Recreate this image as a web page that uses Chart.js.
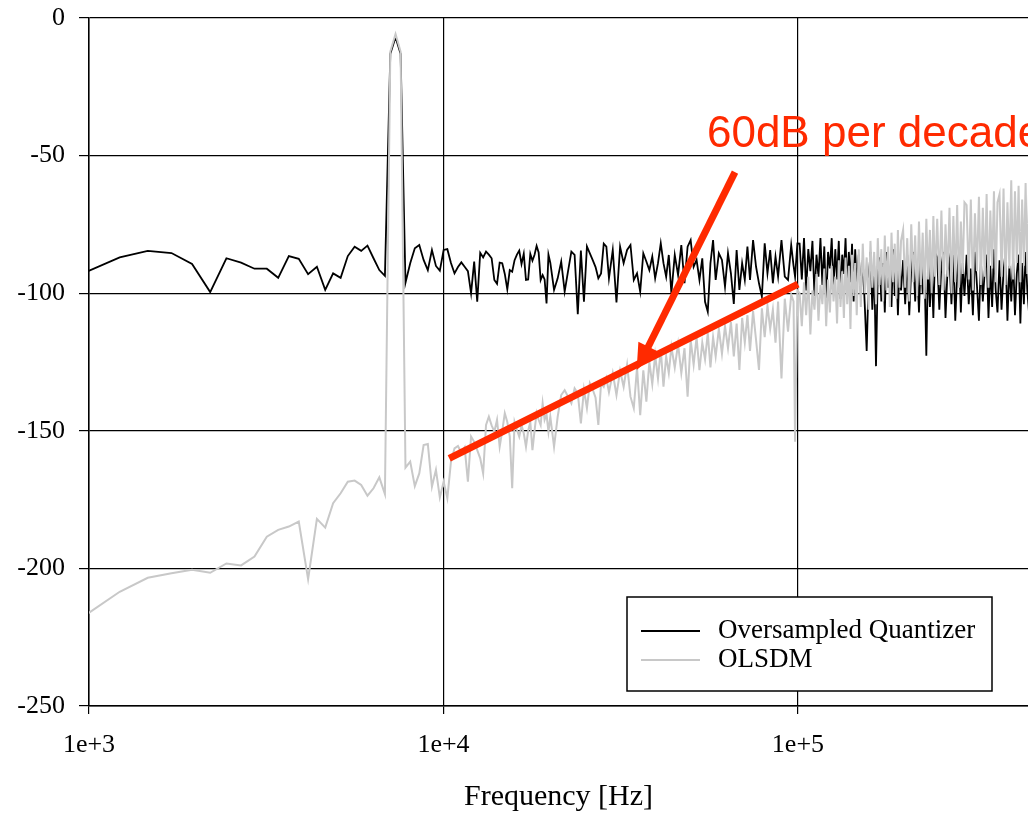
<!DOCTYPE html>
<html>
<head>
<meta charset="utf-8">
<script src="https://cdn.jsdelivr.net/npm/chart.js@4.4.1/dist/chart.umd.min.js"></script>
<style>
  html, body { margin: 0; padding: 0; background: #fff; }
  #spectrumChart { display: block; }
</style>
</head>
<body>
<canvas id="spectrumChart" width="1028" height="815"></canvas>
<script>
const binHz = 244.140625;
const bins = [
  4, 5, 6, 7, 8, 9, 10, 11, 12, 13,
  14, 15, 16, 17, 18, 19, 20, 21, 22, 23,
  24, 25, 26, 27, 28, 29, 30, 31, 32, 33,
  34, 35, 36, 37, 38, 39, 40, 41, 42, 43,
  44, 45, 46, 47, 48, 49, 50, 51, 52, 53,
  54, 55, 56, 57, 58, 59, 60, 61, 62, 63,
  64, 65, 66, 67, 68, 69, 70, 71, 72, 73,
  74, 75, 76, 77, 78, 79, 80, 81,
  82, 84, 86, 88, 90, 92, 94, 96, 98, 100,
  102, 104, 106, 108, 110, 112, 114, 116, 118, 120,
  123, 126, 129, 132, 135, 138, 141, 144, 147, 150,
  153, 156, 159, 162, 165, 168, 171, 174, 177, 180,
  184, 188, 192, 196, 200, 204, 208, 212, 216, 220, 224, 228, 232, 236, 240,
  245, 250, 255, 260, 265, 270, 275, 280, 285, 290, 295, 300,
  306, 312, 318, 324, 330, 336, 342, 348, 354, 360,
  368, 376, 384, 392, 398, 402, 408,
  414, 420, 426, 432, 438, 444, 450, 456, 462, 468,
  474, 480, 486, 492, 498, 504, 510, 516, 522, 528,
  534, 540, 546, 552, 558, 564, 570, 576, 582, 588,
  594, 600, 608, 616, 624, 632, 640, 648, 656, 664,
  672, 680, 688, 696, 704, 712, 720, 728, 736, 744,
  752, 760, 768, 776, 784, 792, 800,
  811, 822, 833, 844, 855, 866, 877, 888, 899,
  910, 921, 932, 943, 954, 965, 976, 987, 998,
  1012, 1026, 1040, 1054, 1068, 1082, 1096, 1110,
  1124, 1138, 1152, 1166, 1180, 1194, 1208,
  1225, 1242, 1259, 1276, 1293, 1310, 1327, 1344, 1361,
  1378, 1395, 1412, 1429, 1446, 1463, 1480, 1497,
  1517, 1537, 1557, 1577, 1597, 1617, 1637, 1657, 1677,
  1697, 1717, 1737, 1757, 1777, 1797, 1817, 1837
];

const quantizerDb = [
  -92.4, -87.0, -84.6, -85.4, -89.4, -99.6, -87.3, -88.9, -91.1, -91.1,
  -94.4, -86.5, -87.5, -93.1, -90.4, -98.8, -92.8, -94.4, -86.5, -83.1,
  -84.6, -82.7, -87.3, -91.6, -93.7, -13, -7, -13, -96.2, -89.1,
  -83.7, -82.5, -87.9, -91.6, -84.3, -90.1, -91.8, -84.3, -84, -89,
  -92.8, -90.5, -88.8, -90.4, -92, -100, -88.5, -103.1, -85.3, -87,
  -84.9, -86, -87.3, -95.2, -96.6, -88.9, -89.1, -93, -98.6, -91.6,
  -92.2, -88, -86, -84.5, -89.4, -85.7, -95.2, -95, -85.7, -88.2,
  -86, -82.8, -85.2, -95.2, -93.4, -95, -103.7, -86,
  -89, -98.8, -94.6, -88.5, -99.4, -92, -84.9, -86.1, -107.6, -84.5,
  -103.1, -83, -85.5, -88, -90.5, -94.6, -92.8, -82, -83.1, -94.6,
  -84.3, -103.4, -83.1, -89.1, -84.3, -82.5, -95.2, -92.8, -99.4, -85.5,
  -88.5, -91.6, -86.7, -94.6, -89.1, -81.9, -89.1, -94, -86.1, -100,
  -86.1, -93.4, -82.5, -96.4, -83.1, -80.7, -90.4, -87.9, -95.2, -87.3, -103.1, -106.7, -89.1, -80.7, -95.2,
  -85.5, -87.9, -97.6, -85.5, -92.8, -103.9, -84.3, -98.8, -89.1, -95.2, -83.1, -95.2,
  -80.7, -90.4, -96.4, -101.2, -81.9, -92.8, -84.3, -96.4, -86.7, -94,
  -80.7, -94, -95.2, -82.5, -90, -94, -81.9,
  -82, -95, -80, -99, -84, -92, -81, -101, -86, -94,
  -80, -97, -83, -104, -85, -91, -80, -98, -84, -95,
  -81, -102, -86, -93, -80, -99, -85, -96, -82, -103,
  -84, -97, -86, -100, -88, -104, -121, -96, -85, -106,
  -90, -126.5, -92, -87, -103, -89, -107, -85, -98, -91,
  -105, -84, -101, -88, -108, -90, -99,
  -88, -104, -86, -108, -91, -85, -103, -89, -107,
  -86, -100, -92, -122.7, -87, -105, -90, -109, -85,
  -87, -106, -90, -85, -109, -92, -88, -104,
  -86, -110, -93, -85, -107, -89, -101,
  -86, -104, -91, -108, -85, -97, -110, -88, -103,
  -92, -86, -109, -90, -105, -84, -99, -107,
  -88, -106, -92, -85, -110, -90, -103, -87, -108,
  -93, -86, -111, -89, -104, -85, -99, -107
];

const olsdmDb = [
  -217, -208.5, -203.4, -201.8, -200.5, -201.6, -198.2, -198.9, -195.7, -188.5,
  -186, -184.8, -183, -203.9, -182, -185.2, -176.3, -172.7, -168.5, -168.1,
  -169.7, -173.6, -170.9, -166.9, -173, -12.2, -5.8, -12.2, -163.4, -161.2,
  -170.1, -165.5, -155.2, -154.8, -170.3, -164.2, -174.2, -168.5, -174.5, -161.2,
  -156.4, -155.5, -158, -156, -168.5, -152.1, -154, -157, -160, -165.5,
  -147.9, -144.9, -148, -150.3, -146, -155.8, -150, -143.6, -146.8, -152,
  -170.9, -146.8, -149.6, -152.1, -148, -150.9, -155.8, -150, -146.8, -157,
  -150, -143.6, -146, -147.9, -140, -146, -144, -150.3,
  -144.9, -155.8, -144.9, -137, -135.2, -137.6, -140, -134.6, -136.4, -147.3,
  -135, -141.8, -132.7, -135, -138, -147.9, -132.7, -134, -130.9, -136,
  -129, -137, -128.2, -134, -126, -137.6, -141.8, -127, -144.3, -128,
  -139.4, -125, -133, -122.5, -131, -120.5, -134, -123, -129, -119.5,
  -127, -118.5, -129, -120, -137.6, -117, -126, -116, -128, -118, -124, -114.5, -127, -116, -123,
  -113, -122, -112, -120, -110.5, -123, -111, -127.9, -109, -118, -108, -121,
  -106.5, -117, -127.9, -105.5, -116, -104.5, -113, -106, -118, -103,
  -131, -102, -114, -100.5, -103, -154, -99,
  -100, -112, -96, -108, -94, -115, -99, -106, -93, -110,
  -97, -104, -91, -112, -95, -107, -90, -103, -94, -111,
  -88, -105, -92, -109, -87, -104, -90, -113, -86, -101,
  -89, -108, -84, -105, -82, -100, -87, -106, -81, -98,
  -85, -104, -80, -97, -84, -103, -79, -99, -83, -105,
  -78, -96, -82, -102, -77, -98, -81,
  -77, -98, -80, -103, -75, -96, -79, -101, -74,
  -97, -78, -102, -73, -95, -77, -100, -72, -94,
  -73, -97, -70, -99, -75, -94, -69, -100,
  -72, -96, -68, -98, -74, -93, -67,
  -68, -95, -66, -99, -71, -92, -65, -97, -69,
  -94, -64, -98, -70, -91, -63, -96, -67,
  -64, -94, -62, -97, -67, -91, -59, -95, -63,
  -89, -61, -96, -66, -90, -60, -93, -64
];

const seriesLabels = ["Oversampled Quantizer", "OLSDM"];
const seriesColors = ["#000000", "#c8c8c8"];

const xRange = [1000, 445600];
const yRange = [-250, 0];
const xTickValues = [1e3, 1e4, 1e5];
const xTickLabels = ["1e+3", "1e+4", "1e+5"];
const yStep = 50;

// red annotation (data units)
const slopeLineHz = [10384, 100000];
const slopeLineDb = [-160.0, -96.7];
const arrowHz = [66430, 35075];
const arrowDb = [-56.0, -127.9];
const noteText = "60dB per decade";
const noteHz = 55370;
const noteDb = -46.9;
const noteColor = "#ff2a00";

if (bins.length !== quantizerDb.length || bins.length !== olsdmDb.length) {
  console.error("length mismatch", bins.length, quantizerDb.length, olsdmDb.length);
}

const serif = "'Liberation Serif', 'Times New Roman', serif";

function toPoints(values) {
  return bins.map((k, i) => ({ x: k * binHz, y: values[i] }));
}

const boxLegend = {
  id: "boxLegend",
  afterDatasetsDraw(chart) {
    const ctx = chart.ctx;
    const x0 = 627, y0 = 597, w = 365, h = 94;
    ctx.save();
    ctx.fillStyle = "#fff";
    ctx.fillRect(x0, y0, w, h);
    ctx.strokeStyle = "#000";
    ctx.lineWidth = 1.5;
    ctx.strokeRect(x0, y0, w, h);
    ctx.font = "27px " + serif;
    ctx.textBaseline = "middle";
    ctx.fillStyle = "#000";
    const rows = [631, 660];
    seriesLabels.forEach((label, i) => {
      ctx.strokeStyle = seriesColors[i];
      ctx.lineWidth = 2;
      ctx.beginPath();
      ctx.moveTo(641, rows[i]);
      ctx.lineTo(700, rows[i]);
      ctx.stroke();
      ctx.fillText(label, 718, rows[i]);
    });
    ctx.restore();
  }
};

const slopeNote = {
  id: "slopeNote",
  afterDraw(chart) {
    const ctx = chart.ctx;
    const xs = chart.scales.x, ys = chart.scales.y;
    const px = v => xs.getPixelForValue(v);
    const py = v => ys.getPixelForValue(v);
    ctx.save();
    ctx.strokeStyle = noteColor;
    ctx.fillStyle = noteColor;
    ctx.lineCap = "butt";

    // slope line
    ctx.lineWidth = 7;
    ctx.beginPath();
    ctx.moveTo(px(slopeLineHz[0]), py(slopeLineDb[0]));
    ctx.lineTo(px(slopeLineHz[1]), py(slopeLineDb[1]));
    ctx.stroke();

    // arrow
    const ax0 = px(arrowHz[0]), ay0 = py(arrowDb[0]);
    const ax1 = px(arrowHz[1]), ay1 = py(arrowDb[1]);
    const len = Math.hypot(ax1 - ax0, ay1 - ay0);
    const ux = (ax1 - ax0) / len, uy = (ay1 - ay0) / len;
    const headLen = 26, headHalf = 11;
    const bx = ax1 - ux * headLen, by = ay1 - uy * headLen;
    ctx.lineWidth = 7;
    ctx.beginPath();
    ctx.moveTo(ax0, ay0);
    ctx.lineTo(bx + ux * 2, by + uy * 2);
    ctx.stroke();
    ctx.beginPath();
    ctx.moveTo(ax1, ay1);
    ctx.lineTo(bx - uy * headHalf, by + ux * headHalf);
    ctx.lineTo(bx + uy * headHalf, by - ux * headHalf);
    ctx.closePath();
    ctx.fill();

    ctx.font = "44px 'Liberation Sans', Arial, sans-serif";
    ctx.textBaseline = "alphabetic";
    ctx.textAlign = "left";
    ctx.fillText(noteText, px(noteHz), py(noteDb));
    ctx.restore();
  }
};

new Chart(document.getElementById("spectrumChart").getContext("2d"), {
  type: "line",
  data: {
    datasets: [
      {
        label: seriesLabels[0],
        data: toPoints(quantizerDb),
        borderColor: seriesColors[0],
        borderWidth: 1.8,
        pointRadius: 0,
        tension: 0,
        order: 1
      },
      {
        label: seriesLabels[1],
        data: toPoints(olsdmDb),
        borderColor: seriesColors[1],
        borderWidth: 2,
        pointRadius: 0,
        tension: 0,
        order: 0
      }
    ]
  },
  options: {
    responsive: false,
    maintainAspectRatio: false,
    animation: false,
    devicePixelRatio: 1,
    layout: { padding: { top: 18, right: 0, bottom: 0, left: 0 } },
    plugins: {
      legend: { display: false },
      tooltip: { enabled: false }
    },
    scales: {
      x: {
        type: "logarithmic",
        min: xRange[0],
        max: xRange[1],
        afterBuildTicks: scale => {
          scale.ticks = xTickValues.map(v => ({ value: v }));
        },
        afterFit: scale => {
          scale.height = 109;
          scale.paddingLeft = 0;
          scale.paddingRight = 0;
        },
        ticks: {
          autoSkip: false,
          maxRotation: 0,
          color: "#000",
          padding: 16,
          font: { family: serif, size: 26 },
          callback: v => {
            const i = xTickValues.indexOf(v);
            return i >= 0 ? xTickLabels[i] : "";
          }
        },
        grid: { color: "#000", lineWidth: 1.2, tickLength: 8 },
        border: { color: "#000", width: 1.5 },
        title: {
          display: true,
          text: "Frequency [Hz]",
          color: "#000",
          font: { family: serif, size: 30 },
          padding: { top: 0, bottom: 0 }
        }
      },
      y: {
        type: "linear",
        min: yRange[0],
        max: yRange[1],
        afterFit: scale => {
          scale.width = 89;
          scale.paddingTop = 0;
          scale.paddingBottom = 0;
        },
        ticks: {
          stepSize: yStep,
          color: "#000",
          padding: 14,
          font: { family: serif, size: 26 }
        },
        grid: { color: "#000", lineWidth: 1.2, tickLength: 10 },
        border: { color: "#000", width: 1.5 }
      }
    }
  },
  plugins: [boxLegend, slopeNote]
});
</script>
</body>
</html>
